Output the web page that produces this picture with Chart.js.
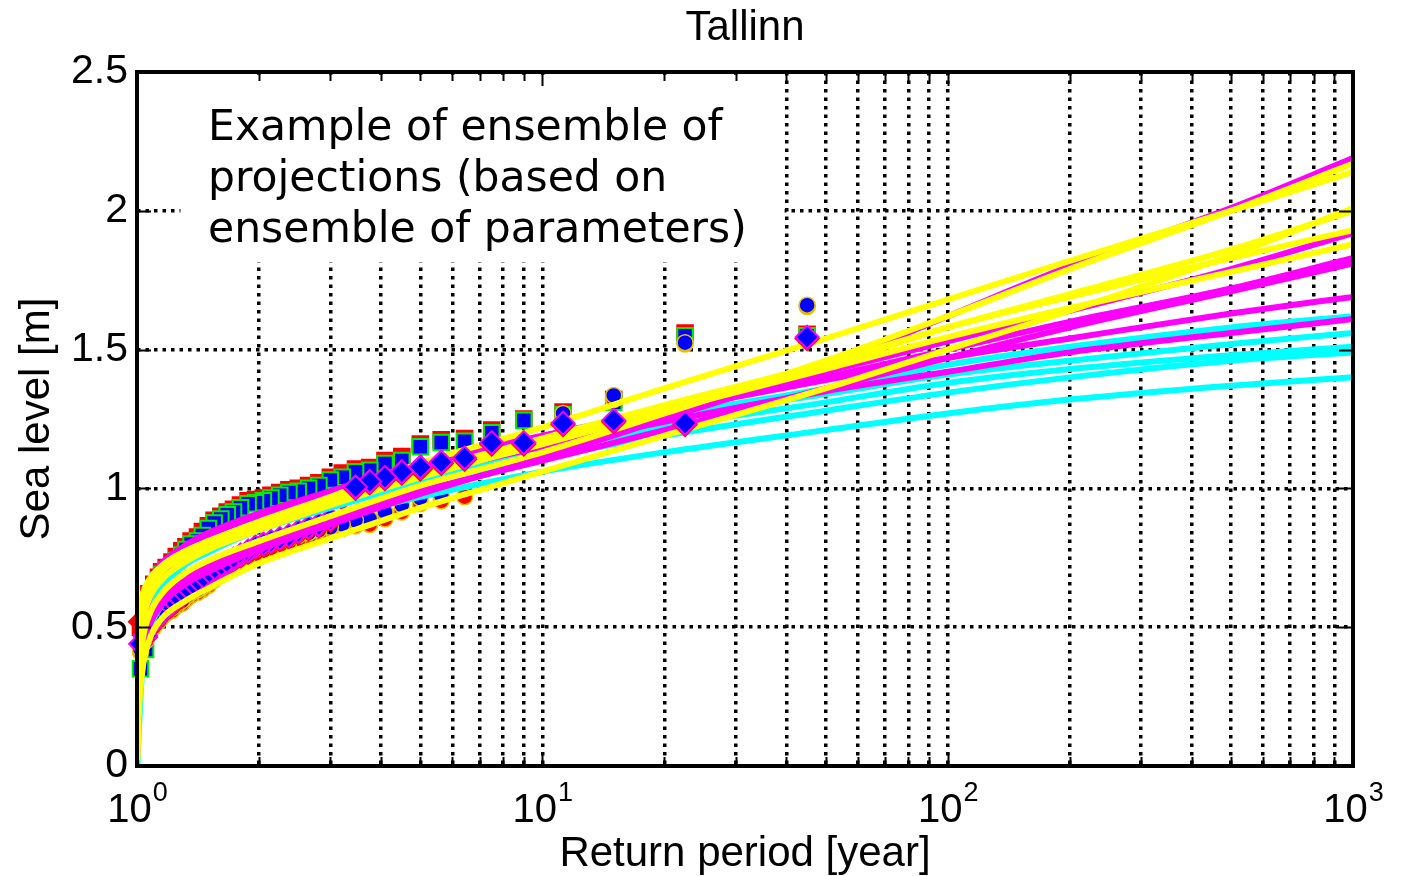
<!DOCTYPE html>
<html>
<head>
<meta charset="utf-8">
<script src="https://cdn.jsdelivr.net/npm/chart.js@4.4.1/dist/chart.umd.min.js"></script>
<style>
  html, body { margin: 0; padding: 0; background: #fff; }
  #myChart { display: block; }
</style>
</head>
<body>
<canvas id="myChart" width="1409" height="876"></canvas>
<script>
// ---- data ----
// x grid / tick positions (log axis)
const xGridTicks = [1, 2, 3, 4, 5, 6, 7, 8, 9, 10, 20, 30, 40, 50, 60, 70, 80, 90, 100,
  200, 300, 400, 500, 600, 700, 800, 900, 1000];
const decadeTicks = [1, 10, 100, 1000];
const decadeExponents = ['0', '1', '2', '3'];
const yTicks = [0, 0.5, 1, 1.5, 2, 2.5];

// empirical return periods of the observed maxima
const returnPeriod = [45, 22.5, 15, 11.25, 9, 7.5, 6.43, 5.63, 5, 4.5,
  4.09, 3.75, 3.46, 3.21, 3.0, 2.81, 2.65, 2.5, 2.37, 2.25,
  2.14, 2.05, 1.96, 1.88, 1.8, 1.73, 1.67, 1.61, 1.55, 1.5,
  1.45, 1.41, 1.36, 1.32, 1.29, 1.25, 1.22, 1.18, 1.15, 1.13,
  1.1, 1.07, 1.05, 1.02];

const squaresRed = [1.555, 1.56, 1.32, 1.275, 1.25, 1.21, 1.18, 1.175, 1.16, 1.115,
  1.10, 1.075, 1.07, 1.055, 1.04, 1.02, 1.01, 1.0, 0.995, 0.985,
  0.975, 0.965, 0.96, 0.955, 0.94, 0.925, 0.915, 0.90, 0.885, 0.865,
  0.845, 0.825, 0.81, 0.79, 0.775, 0.755, 0.735, 0.715, 0.70, 0.68,
  0.655, 0.62, 0.56, 0.50];
const squaresBlue = [1.55, 1.55, 1.31, 1.265, 1.245, 1.20, 1.17, 1.165, 1.15, 1.10,
  1.09, 1.065, 1.06, 1.04, 1.03, 1.01, 1.00, 0.99, 0.985, 0.975,
  0.965, 0.955, 0.948, 0.945, 0.93, 0.915, 0.905, 0.89, 0.875, 0.855,
  0.83, 0.81, 0.80, 0.78, 0.76, 0.74, 0.72, 0.705, 0.69, 0.67,
  0.63, 0.58, 0.42, 0.35];
const circlesRed = [1.655, 1.52, 1.32, 1.25, 1.12, 1.09, 0.97, 0.955, 0.945, 0.915,
  0.89, 0.87, 0.865, 0.855, 0.845, 0.835, 0.825, 0.815, 0.805, 0.795,
  0.785, 0.775, 0.765, 0.755, 0.745, 0.735, 0.715, 0.695, 0.67, 0.65,
  0.635, 0.625, 0.615, 0.60, 0.585, 0.575, 0.56, 0.55, 0.535, 0.52,
  0.50, 0.48, 0.45, 0.41];
const circlesBlue = [1.66, 1.525, 1.335, 1.27, 1.13, 1.10, 1.08, 0.975, 0.965, 0.94,
  0.915, 0.89, 0.885, 0.87, 0.86, 0.85, 0.84, 0.83, 0.82, 0.81,
  0.80, 0.79, 0.78, 0.77, 0.76, 0.75, 0.73, 0.71, 0.68, 0.66,
  0.645, 0.635, 0.625, 0.61, 0.595, 0.585, 0.57, 0.56, 0.545, 0.53,
  0.51, 0.49, 0.46, 0.42];
const diamondsRed = [1.54, 1.23, 1.24, 1.23, 1.16, 1.16, 1.105, 1.09, 1.07, 1.055,
  1.035, 1.02, 1.0, 0.965, 0.885, 0.865, 0.855, 0.84, 0.825, 0.815,
  0.805, 0.795, 0.785, 0.77, 0.755, 0.74, 0.725, 0.71, 0.695, 0.685,
  0.67, 0.655, 0.64, 0.625, 0.61, 0.595, 0.58, 0.565, 0.55, 0.535,
  0.515, 0.495, 0.465, 0.52];
const diamondsBlue = [1.545, 1.235, 1.245, 1.235, 1.165, 1.165, 1.11, 1.095, 1.077, 1.06,
  1.04, 1.025, 1.005, 0.97, 0.89, 0.87, 0.86, 0.845, 0.83, 0.82,
  0.81, 0.80, 0.79, 0.775, 0.76, 0.745, 0.73, 0.715, 0.70, 0.69,
  0.675, 0.66, 0.645, 0.63, 0.615, 0.60, 0.585, 0.57, 0.555, 0.54,
  0.52, 0.50, 0.47, 0.44];

// return periods at which the projected curves are sampled
const curveT = [1.003, 1.01, 1.03, 1.07, 1.15, 1.3, 1.5, 2, 3, 5, 10, 20, 50, 100, 200, 500, 1000];

const cyanCurves = [
  [0.28, 0.44, 0.56, 0.65, 0.72, 0.78, 0.83, 0.90, 0.98, 1.07, 1.17, 1.26, 1.36, 1.445, 1.51, 1.58, 1.62],
  [0.20, 0.38, 0.53, 0.62, 0.70, 0.77, 0.82, 0.89, 0.97, 1.06, 1.16, 1.25, 1.34, 1.41, 1.46, 1.52, 1.56],
  [0.12, 0.30, 0.47, 0.58, 0.67, 0.74, 0.79, 0.87, 0.95, 1.04, 1.13, 1.22, 1.31, 1.38, 1.43, 1.48, 1.51],
  [0.05, 0.22, 0.42, 0.55, 0.64, 0.72, 0.77, 0.85, 0.93, 1.02, 1.11, 1.19, 1.28, 1.345, 1.40, 1.46, 1.49],
  [0.00, 0.12, 0.34, 0.48, 0.58, 0.67, 0.73, 0.81, 0.89, 0.97, 1.06, 1.13, 1.21, 1.27, 1.32, 1.37, 1.40]
];
const magentaCurves = [
  [0.05, 0.22, 0.40, 0.50, 0.58, 0.65, 0.70, 0.78, 0.87, 0.98, 1.11, 1.25, 1.44, 1.62, 1.80, 2.01, 2.19],
  [0.20, 0.36, 0.50, 0.60, 0.68, 0.75, 0.80, 0.87, 0.95, 1.05, 1.16, 1.28, 1.42, 1.53, 1.64, 1.79, 1.92],
  [0.26, 0.42, 0.54, 0.63, 0.70, 0.77, 0.82, 0.89, 0.97, 1.07, 1.17, 1.28, 1.40, 1.50, 1.60, 1.72, 1.83],
  [0.08, 0.24, 0.41, 0.52, 0.60, 0.67, 0.72, 0.80, 0.89, 0.99, 1.10, 1.21, 1.36, 1.47, 1.58, 1.71, 1.81],
  [0.30, 0.46, 0.58, 0.66, 0.73, 0.79, 0.84, 0.91, 0.99, 1.09, 1.19, 1.28, 1.39, 1.47, 1.54, 1.63, 1.69],
  [0.14, 0.32, 0.49, 0.60, 0.68, 0.75, 0.80, 0.88, 0.96, 1.05, 1.15, 1.24, 1.35, 1.42, 1.49, 1.56, 1.61]
];
const yellowCurves = [
  [0.10, 0.28, 0.44, 0.54, 0.62, 0.69, 0.74, 0.81, 0.90, 1.01, 1.13, 1.27, 1.46, 1.62, 1.79, 2.00, 2.17],
  [0.40, 0.52, 0.61, 0.67, 0.72, 0.77, 0.81, 0.88, 0.97, 1.09, 1.22, 1.36, 1.54, 1.68, 1.82, 2.00, 2.14],
  [0.22, 0.38, 0.51, 0.60, 0.67, 0.73, 0.78, 0.85, 0.94, 1.04, 1.16, 1.28, 1.44, 1.58, 1.70, 1.86, 2.00],
  [0.33, 0.48, 0.59, 0.66, 0.72, 0.77, 0.81, 0.88, 0.96, 1.06, 1.18, 1.30, 1.45, 1.58, 1.69, 1.83, 1.93],
  [0.28, 0.43, 0.55, 0.63, 0.70, 0.75, 0.80, 0.87, 0.95, 1.05, 1.16, 1.28, 1.43, 1.545, 1.65, 1.78, 1.88],
  [0.02, 0.18, 0.34, 0.45, 0.53, 0.59, 0.64, 0.73, 0.82, 0.93, 1.06, 1.19, 1.36, 1.50, 1.64, 1.84, 2.01]
];

const noteLines = ['Example of ensemble of', 'projections (based on', 'ensemble of parameters)'];

// ---- build datasets (listed bottom -> top) ----
function points(xs, ys) {
  return xs.map((t, i) => ({ x: t, y: ys[i] }));
}
function markers(pts, style, radius, fill, edge, edgeWidth) {
  return {
    type: 'scatter', data: pts, showLine: false, clip: false,
    pointStyle: style, pointRadius: radius, pointHoverRadius: radius,
    backgroundColor: fill, borderColor: edge, pointBorderWidth: edgeWidth
  };
}
function curve(ys, color) {
  return {
    type: 'line', data: points(curveT, ys), showLine: true, fill: false,
    borderColor: color, borderWidth: 6, pointRadius: 0,
    cubicInterpolationMode: 'monotone'
  };
}

// the diamonds of the short return periods sit under the curves, the rest on top
const lowT = p => p.x < 3.3;
const highT = p => p.x >= 3.3;
const dRed = points(returnPeriod, diamondsRed);
const dBlue = points(returnPeriod, diamondsBlue);

let sets = [];
sets.push(markers(points(returnPeriod, squaresRed), 'rect', 11, '#ff0000', '#ff0000', 2));
sets.push(markers(points(returnPeriod, squaresBlue), 'rect', 11, '#0000ff', '#00ee00', 2));
sets.push(markers(points(returnPeriod, circlesRed), 'circle', 8, '#ff0000', '#e8c400', 1.5));
sets.push(markers(points(returnPeriod, circlesBlue), 'circle', 8, '#0000ff', '#e8c400', 1.5));
sets.push(markers(dRed.filter(lowT), 'rectRot', 11.5, '#ff0000', '#ff0000', 2));
sets.push(markers(dBlue.filter(lowT), 'rectRot', 11.5, '#0000ff', '#ff00ff', 2));
cyanCurves.forEach(c => sets.push(curve(c, '#00ffff')));
magentaCurves.forEach(c => sets.push(curve(c, '#ff00ff')));
yellowCurves.forEach(c => sets.push(curve(c, '#ffff00')));
sets.push(markers(dRed.filter(highT), 'rectRot', 11.5, '#ff0000', '#ff0000', 2));
sets.push(markers(dBlue.filter(highT), 'rectRot', 11.5, '#0000ff', '#ff00ff', 2));
sets.forEach((d, i) => { d.order = sets.length - i; });

// white note box with text, drawn over the grid but under the data
const noteBox = {
  id: 'noteBox',
  beforeDatasetsDraw(chart) {
    const { ctx, scales: { x, y } } = chart;
    const x0 = x.getPixelForValue(1.28), x1 = x.getPixelForValue(39.6);
    const y0 = y.getPixelForValue(2.49), y1 = y.getPixelForValue(1.815);
    ctx.save();
    ctx.fillStyle = '#fff';
    ctx.fillRect(x0, y0, x1 - x0, y1 - y0);
    ctx.fillStyle = '#000';
    ctx.font = '42.5px "DejaVu Sans"';
    ctx.textBaseline = 'alphabetic';
    ctx.textAlign = 'left';
    const tx = x.getPixelForValue(1.497);
    const base = [2.255, 2.071, 1.888];
    noteLines.forEach((s, i) => ctx.fillText(s, tx, y.getPixelForValue(base[i])));
    ctx.restore();
  }
};

// MATLAB style frame, inward ticks and 10^n labels
const frame = {
  id: 'frame',
  afterDraw(chart) {
    const { ctx, chartArea: a, scales: { x, y } } = chart;
    ctx.save();
    ctx.strokeStyle = '#000';
    ctx.lineWidth = 2;
    ctx.beginPath();
    xGridTicks.forEach(v => {
      const px = Math.round(x.getPixelForValue(v)) + 0.5;
      const len = decadeTicks.includes(v) ? 14 : 9;
      ctx.moveTo(px, a.bottom); ctx.lineTo(px, a.bottom - len);
      ctx.moveTo(px, a.top); ctx.lineTo(px, a.top + len);
    });
    yTicks.forEach(v => {
      const py = Math.round(y.getPixelForValue(v)) + 0.5;
      ctx.moveTo(a.left, py); ctx.lineTo(a.left + 14, py);
      ctx.moveTo(a.right, py); ctx.lineTo(a.right - 14, py);
    });
    ctx.stroke();
    ctx.lineWidth = 4;
    ctx.strokeRect(a.left, a.top, a.right - a.left, a.bottom - a.top);

    ctx.fillStyle = '#000';
    ctx.textBaseline = 'alphabetic';
    ctx.textAlign = 'left';
    decadeTicks.forEach((v, i) => {
      const px = x.getPixelForValue(v);
      ctx.font = '40px "Liberation Sans"';
      const w1 = ctx.measureText('10').width;
      ctx.font = '27px "Liberation Sans"';
      const w2 = ctx.measureText(decadeExponents[i]).width;
      const left = px - (w1 + w2) / 2;
      ctx.font = '40px "Liberation Sans"';
      ctx.fillText('10', left, 822);
      ctx.font = '27px "Liberation Sans"';
      ctx.fillText(decadeExponents[i], left + w1 + 1, 801);
    });
    ctx.restore();
  }
};

const titleFont = { family: 'Liberation Sans', size: 42, weight: 'normal', lineHeight: 1 };
const tickFont = { family: 'Liberation Sans', size: 41, weight: 'normal' };

const myChart = new Chart(document.getElementById('myChart'), {
  type: 'scatter',
  data: { datasets: sets },
  options: {
    responsive: false,
    animation: false,
    devicePixelRatio: 1,
    events: [],
    layout: { padding: { left: 0, right: 56, top: 0, bottom: 0 } },
    plugins: {
      legend: { display: false },
      tooltip: { enabled: false },
      title: {
        display: true, text: 'Tallinn', fullSize: false, color: '#000',
        font: titleFont, padding: { top: 7, bottom: 23 }
      }
    },
    scales: {
      x: {
        type: 'logarithmic', min: 1, max: 1000,
        afterBuildTicks: s => { s.ticks = xGridTicks.map(v => ({ value: v })); },
        afterFit: s => { s.height = 110; },
        ticks: { callback: () => '', autoSkip: false, maxRotation: 0 },
        grid: { color: '#000', lineWidth: 3.5, drawTicks: false },
        border: { display: false, dash: [3.5, 5] },
        title: { display: true, text: 'Return period [year]', color: '#000', font: titleFont, padding: { top: 0, bottom: 1 } }
      },
      y: {
        min: 0, max: 2.5,
        afterBuildTicks: s => { s.ticks = yTicks.map(v => ({ value: v })); },
        afterFit: s => { s.width = 137; },
        ticks: { callback: v => String(v), color: '#000', font: tickFont, padding: 9 },
        grid: { color: '#000', lineWidth: 3.5, drawTicks: false },
        border: { display: false, dash: [3.5, 5] },
        title: { display: true, text: 'Sea level [m]', color: '#000', font: titleFont, padding: { top: 16, bottom: 0 } }
      }
    }
  },
  plugins: [noteBox, frame]
});
</script>
</body>
</html>
